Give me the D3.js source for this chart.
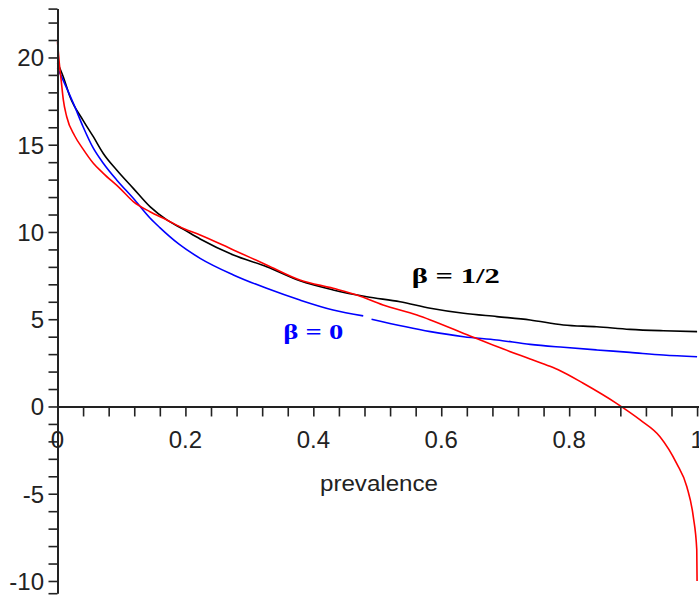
<!DOCTYPE html>
<html>
<head>
<meta charset="utf-8">
<script src="https://cdnjs.cloudflare.com/ajax/libs/d3/7.8.5/d3.min.js"></script>
<style>
  body { margin: 0; background: #fff; }
  .tick-label { font-family: "Liberation Sans", Arial, sans-serif; font-size: 24px; fill: #222; }
  .beta { font-family: "Liberation Serif", "Times New Roman", serif; font-weight: bold; font-size: 22px; }
</style>
</head>
<body>
<div id="chart"></div>
<script>
// curves (x = prevalence)
let redX = [0, 0.003, 0.006, 0.009, 0.0144, 0.027, 0.04, 0.056, 0.0716, 0.0977, 0.1185, 0.1446, 0.171, 0.197,
            0.223, 0.275, 0.327, 0.379, 0.431, 0.468, 0.509, 0.562, 0.583, 0.645, 0.687, 0.739, 0.77, 0.786,
            0.822, 0.874, 0.911, 0.942, 0.968, 0.984, 0.994, 0.9995, 1.0];
let redY = [20.9, 19.6, 18.6, 17.6, 16.6, 15.5, 14.75, 13.94, 13.36, 12.5, 11.74, 11.16, 10.69, 10.2,
            9.83, 8.97, 8.11, 7.25, 6.77, 6.39, 5.82, 5.24, 4.96, 4.04, 3.43, 2.72, 2.3, 2.05,
            1.33, 0.18, -0.77, -1.73, -3.26, -4.6, -6.3, -8.2, -10.0];

let blackX = [0, 0.009, 0.0195, 0.04, 0.056, 0.0716, 0.0925, 0.1185, 0.1446, 0.171, 0.197, 0.223, 0.275,
              0.327, 0.379, 0.431, 0.4835, 0.5356, 0.583, 0.635, 0.687, 0.739, 0.791, 0.843, 0.895, 0.947, 1.0];
let blackY = [19.7, 18.9, 17.75, 16.4, 15.46, 14.5, 13.55, 12.5, 11.45, 10.69, 10.15, 9.6, 8.68,
              8.01, 7.2, 6.68, 6.29, 6.0, 5.63, 5.34, 5.15, 4.96, 4.67, 4.57, 4.42, 4.34, 4.29];

// blue has a small break near 0.48 (null = gap)
let blueX = [0, 0.01, 0.027, 0.04, 0.056, 0.0716, 0.0925, 0.1185, 0.1446, 0.16, 0.19, 0.223, 0.275, 0.327, 0.379,
             0.431, 0.478, 0.484, 0.491, 0.583, 0.635, 0.687, 0.739, 0.791, 0.843, 0.895, 0.947, 1.0];
let blueY = [19.4, 18.6, 17.18, 16.03, 14.8, 13.94, 12.98, 11.93, 10.8, 10.25, 9.3, 8.49, 7.54, 6.77, 6.1,
             5.53, 5.19, null, 5.0, 4.29, 4.0, 3.81, 3.56, 3.39, 3.24, 3.1, 2.95, 2.85];

let xLabels = [0, 0.2, 0.4, 0.6, 0.8, 1];
let yLabels = [-10, -5, 0, 5, 10, 15, 20];

let width = 699, height = 599;

let x = d3.scaleLinear().domain([0, 1.003]).range([57.5, 699]);
let yDomain = [-10.7, 22.8];
let y = d3.scaleLinear().domain(yDomain).range([593.2, 8.6]);

let svg = d3.select('#chart').append('svg')
    .attr('width', width)
    .attr('height', height);

svg.append('rect')
    .attr('width', '100%')
    .attr('height', '100%')
    .attr('fill', '#fff');

// curves
let line = d3.line()
    .defined(d => d[1] != null)
    .x(d => x(d[0]))
    .y(d => y(d[1]))
    .curve(d3.curveMonotoneX);

function drawCurve(xs, ys, color) {
    svg.append('path')
        .datum(xs.map((v, i) => [v, ys[i]]))
        .attr('d', line)
        .attr('fill', 'none')
        .attr('stroke', color)
        .attr('stroke-width', 1.6);
}
drawCurve(blackX, blackY, '#000');
drawCurve(blueX, blueY, '#0000ff');
drawCurve(redX, redY, '#ff0000');

// x axis through y = 0
let xAxis = d3.axisBottom(x)
    .tickValues(d3.range(0, 1.001, 0.04))
    .tickSize(10)
    .tickSizeOuter(0)
    .tickFormat('');
svg.append('g')
    .attr('transform', 'translate(0,' + y(0) + ')')
    .call(xAxis);

// y axis through x = 0, ticks on each unit plus end caps
let yAxis = d3.axisLeft(y)
    .tickValues(d3.range(-10, 23).concat(yDomain))
    .tickSize(9)
    .tickSizeOuter(0)
    .tickFormat('');
svg.append('g')
    .attr('transform', 'translate(' + x(0) + ',0)')
    .call(yAxis);

svg.selectAll('.domain').attr('stroke', '#222').attr('stroke-width', 2);
svg.selectAll('.tick line').attr('stroke', '#222').attr('stroke-width', 1.6);

// tick labels
svg.selectAll('.xlab')
    .data(xLabels)
    .enter().append('text')
    .attr('class', 'tick-label')
    .attr('x', d => x(d))
    .attr('y', y(0) + 42)
    .attr('text-anchor', 'middle')
    .text(d => d);

svg.selectAll('.ylab')
    .data(yLabels)
    .enter().append('text')
    .attr('class', 'tick-label')
    .attr('x', 44)
    .attr('y', d => y(d) + 9)
    .attr('text-anchor', 'end')
    .text(d => d);

svg.append('text')
    .attr('class', 'tick-label')
    .attr('x', 320)
    .attr('y', 491)
    .attr('textLength', 118)
    .attr('lengthAdjust', 'spacingAndGlyphs')
    .style('font-size', '22px')
    .text('prevalence');

// curve labels
svg.append('text')
    .attr('class', 'beta')
    .attr('x', x(0.554))
    .attr('y', y(7.08))
    .attr('textLength', 88)
    .attr('lengthAdjust', 'spacingAndGlyphs')
    .attr('fill', '#000')
    .text('β = 1/2');

svg.append('text')
    .attr('class', 'beta')
    .attr('x', x(0.353))
    .attr('y', y(3.87))
    .attr('textLength', 60)
    .attr('lengthAdjust', 'spacingAndGlyphs')
    .attr('fill', '#0000ff')
    .text('β = 0');
</script>
</body>
</html>
